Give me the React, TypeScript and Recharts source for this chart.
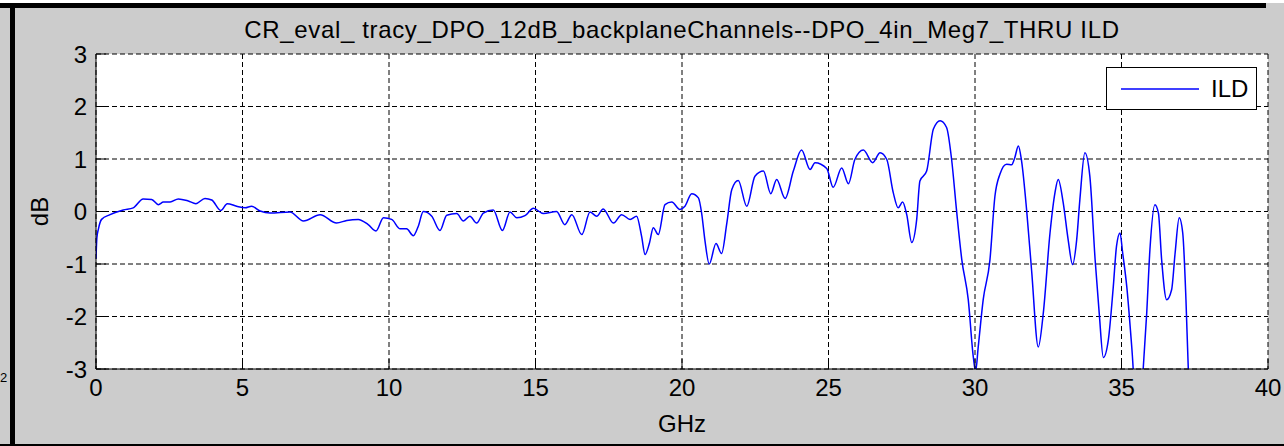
import { LineChart, Line, XAxis, YAxis, CartesianGrid, Legend } from "recharts";

// ILD trace (GHz vs dB)
const freqGHz = [
  0, 0.03, 0.08, 0.19, 0.48, 0.93, 1.27, 1.61, 1.9, 2.13, 2.3, 2.53, 2.81, 3.15, 3.41, 3.72, 3.95,
  4.26, 4.48, 4.8, 5.09, 5.31, 5.6, 5.94, 6.62, 7.08, 7.65, 8.21, 8.56, 8.95, 9.29, 9.56, 9.81,
  10.09, 10.38, 10.6, 10.83, 11.0, 11.17, 11.46, 11.74, 11.97, 12.31, 12.54, 12.76, 12.99, 13.22,
  13.56, 13.87, 14.13, 14.36, 14.64, 14.93, 15.27, 15.72, 16.0, 16.24, 16.58, 16.86, 17.09, 17.31,
  17.66, 17.94, 18.23, 18.45, 18.62, 18.74, 18.89, 19.02, 19.19, 19.42, 19.65, 19.93, 20.1, 20.33,
  20.56, 20.67, 20.78, 20.93, 21.16, 21.35, 21.53, 21.7, 21.92, 22.21, 22.49, 22.78, 23.03, 23.23,
  23.52, 23.8, 24.08, 24.37, 24.54, 24.94, 25.16, 25.45, 25.68, 25.9, 26.19, 26.51, 26.76, 26.99,
  27.21, 27.38, 27.53, 27.67, 27.84, 28.01, 28.12, 28.35, 28.58, 28.81, 29.03, 29.2, 29.37, 29.55,
  29.77, 29.94, 30.02, 30.11, 30.28, 30.51, 30.68, 30.85, 31.08, 31.25, 31.36, 31.48, 31.59, 31.76,
  31.93, 32.16, 32.33, 32.56, 32.73, 32.84, 33.01, 33.18, 33.33, 33.47, 33.58, 33.75, 33.92, 34.1,
  34.24, 34.38, 34.55, 34.72, 34.83, 34.95, 35.04, 35.18, 35.35, 35.57, 35.74, 35.86, 35.97, 36.14,
  36.26, 36.37, 36.54, 36.71, 36.83, 36.97, 37.09, 37.2, 37.28, 37.4,
];
const ildDb = [
  -0.9, -0.5, -0.34, -0.15, -0.06, 0.03, 0.07, 0.24, 0.23, 0.13, 0.18, 0.18, 0.24, 0.2, 0.15, 0.25, 0.22,
  0.02, 0.15, 0.1, 0.07, 0.1, 0.01, -0.03, -0.01, -0.18, -0.06, -0.22, -0.17, -0.15, -0.25, -0.37, -0.12,
  -0.15, -0.33, -0.33, -0.46, -0.28, 0, -0.09, -0.36, -0.07, -0.04, -0.18, -0.09, -0.22, -0.03,
  0.03, -0.36, -0.01, -0.12, -0.08, 0.06, -0.04, 0, -0.25, -0.06, -0.44, -0.01, -0.09, 0.05,
  -0.22, -0.06, -0.15, -0.09, -0.47, -0.82, -0.6, -0.31, -0.44, 0.13, 0.18, 0.04, 0.1, 0.34,
  0.26, -0.03, -0.54, -1.0, -0.61, -0.8, -0.22, 0.42, 0.59, 0.1, 0.67, 0.77, 0.34, 0.61,
  0.25, 0.77, 1.17, 0.8, 0.93, 0.82, 0.46, 0.83, 0.53, 0.99, 1.17, 0.93, 1.12, 0.99,
  0.36, 0.07, 0.18, -0.06, -0.59, -0.15, 0.58, 0.77, 1.57, 1.73, 1.6, 1.0, 0.02, -0.92,
  -1.68, -2.76, -3.05, -2.58, -1.68, -0.92, 0.29, 0.71, 0.9, 0.89, 1.03, 1.25, 0.96, 0.04,
  -1.11, -2.58, -1.94, -0.41, 0.36, 0.61, 0.17, -0.54, -1.01, -0.54, 0.23, 1.12, 0.67, -0.92,
  -1.94, -2.78, -2.45, -1.43, -0.66, -0.41, -0.79, -1.43, -2.58, -4.2, -3.0, -1.94, -0.73, 0.13,
  -0.03, -0.92, -1.68, -1.49, -0.79, -0.12, -0.41, -1.68, -3.0, -4.0,
];

const xTicks = [0, 5, 10, 15, 20, 25, 30, 35, 40];
const yTicks = [-3, -2, -1, 0, 1, 2, 3];
const seriesName = "ILD";
const chartTitle = "CR_eval_ tracy_DPO_12dB_backplaneChannels--DPO_4in_Meg7_THRU ILD";

const data = freqGHz.map((f, i) => ({ f, ild: ildDb[i] }));

const FONT = '"Liberation Sans", Arial, Helvetica, sans-serif';
const tickStyle = { fill: "#000", fontSize: 24, fontFamily: FONT };

function DbLabel({ viewBox }: any) {
  const { x, y, height } = viewBox;
  return (
    <text
      transform={`translate(${x + 48},${y + height / 2}) rotate(-90)`}
      textAnchor="middle"
      fontSize={24}
      fontFamily={FONT}
      fill="#000"
    >
      dB
    </text>
  );
}

function LegendBox() {
  return (
    <div
      style={{
        width: 151,
        height: 43,
        boxSizing: "border-box",
        border: "1px solid #000",
        background: "#fff",
        display: "flex",
        alignItems: "center",
        fontFamily: FONT,
        fontSize: 24,
        color: "#000",
      }}
    >
      <svg width={92} height={10}>
        <line x1={14} x2={92} y1={5} y2={5} stroke="#0000ff" strokeWidth={1.5} />
      </svg>
      <span style={{ marginLeft: 12 }}>{seriesName}</span>
    </div>
  );
}

export default function App() {
  return (
    <div
      style={{
        position: "absolute",
        left: 0,
        top: 0,
        width: 1284,
        height: 446,
        background: "#cccccc",
        overflow: "hidden",
      }}
    >
      {/* screenshot frame bits */}
      <div style={{ position: "absolute", left: 0, top: 0, width: 1284, height: 3, background: "#fff" }} />
      <div style={{ position: "absolute", left: 0, top: 3, width: 1266, height: 5, background: "#000" }} />
      <div style={{ position: "absolute", left: 10, top: 3, width: 5, height: 443, background: "#000" }} />
      <div style={{ position: "absolute", left: 0, top: 444, width: 1284, height: 2, background: "#000" }} />
      <span
        style={{ position: "absolute", left: 0, top: 370, fontFamily: FONT, fontSize: 13, color: "#000" }}
      >
        2
      </span>

      <div
        style={{
          position: "absolute",
          left: 96,
          top: 18,
          width: 1172,
          textAlign: "center",
          fontFamily: FONT,
          fontSize: 24,
          lineHeight: "24px",
          letterSpacing: "0.65px",
          color: "#000",
          whiteSpace: "nowrap",
        }}
      >
        {chartTitle}
      </div>

      <LineChart
        width={1284}
        height={446}
        data={data}
        margin={{ top: 54, right: 16, bottom: 0, left: 0 }}
        style={{ position: "absolute", left: 0, top: 0 }}
      >
        <CartesianGrid stroke="#000" strokeDasharray="5 3" fill="#fff" />
        <XAxis
          dataKey="f"
          type="number"
          domain={[0, 40]}
          ticks={xTicks}
          interval={0}
          allowDataOverflow
          height={77}
          tickSize={-10}
          tickMargin={20}
          axisLine={{ stroke: "#000" }}
          tickLine={{ stroke: "#000" }}
          tick={tickStyle}
          label={{ value: "GHz", position: "insideBottom", offset: 14, fontSize: 24, fontFamily: FONT, fill: "#000" }}
        />
        <XAxis
          xAxisId="top"
          orientation="top"
          type="number"
          domain={[0, 40]}
          ticks={xTicks}
          interval={0}
          height={0}
          tickSize={-10}
          tick={false}
          axisLine={{ stroke: "#000" }}
          tickLine={{ stroke: "#000" }}
        />
        <YAxis
          type="number"
          domain={[-3, 3]}
          ticks={yTicks}
          interval={0}
          allowDataOverflow
          width={96}
          tickSize={-10}
          tickMargin={19}
          axisLine={{ stroke: "#000" }}
          tickLine={{ stroke: "#000" }}
          tick={tickStyle}
          label={<DbLabel />}
        />
        <YAxis
          yAxisId="right"
          orientation="right"
          type="number"
          domain={[-3, 3]}
          ticks={yTicks}
          interval={0}
          width={0}
          tickSize={-10}
          tick={false}
          axisLine={{ stroke: "#000" }}
          tickLine={{ stroke: "#000" }}
        />
        <Legend
          layout="vertical"
          align="center"
          verticalAlign="middle"
          content={<LegendBox />}
          wrapperStyle={{ left: 1106, top: 67, width: 151 }}
        />
        <Line
          type="monotone"
          dataKey="ild"
          name={seriesName}
          stroke="#0000ff"
          strokeWidth={1.5}
          dot={false}
          isAnimationActive={false}
        />
      </LineChart>
    </div>
  );
}
